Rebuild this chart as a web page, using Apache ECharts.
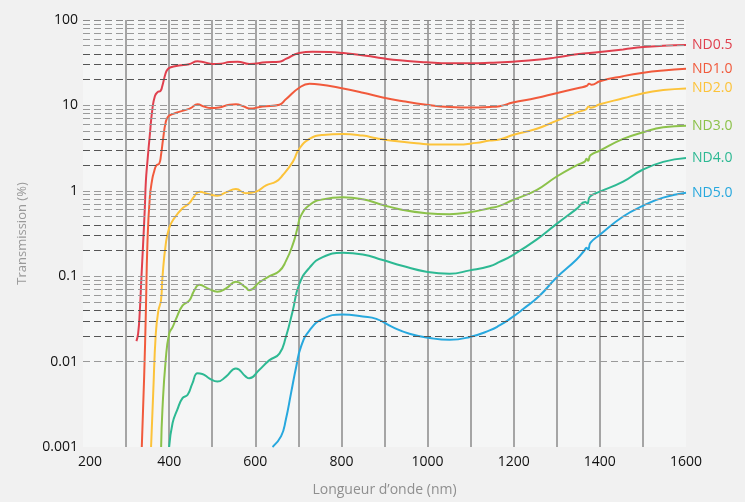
<!DOCTYPE html>
<html>
<head>
<meta charset="utf-8">
<script src="https://cdn.jsdelivr.net/npm/echarts@6/dist/echarts.min.js"></script>
<style>
html,body{margin:0;padding:0;background:#f1f1f1;}
#chart{width:745px;height:502px;}
</style>
</head>
<body>
<div id="chart"></div>
<script>
// ---- Data (wavelength nm, transmission %) ----
var seriesNames = ['ND0.5', 'ND1.0', 'ND2.0', 'ND3.0', 'ND4.0', 'ND5.0'];
var xTicks = [200, 400, 600, 800, 1000, 1200, 1400, 1600];
var yTicks = [0.001, 0.01, 0.1, 1, 10, 100];

var nd05 = [[324,0.0174],[328,0.0212],[332,0.040],[335.6,0.096],[339.5,0.234],[343.5,0.625],[346,1.3],[349.5,2.18],[355,4.43],[361,9.0],[367,12.9],[373,14.3],[380,14.8],[384,16.8],[391,23],[396,26.3],[404,28],[423,29.3],[446,30.3],[466,32.8],[481,32],[501,30.6],[520,30.8],[540,32.2],[559,32.5],[586,30.6],[625,32],[656,32.5],[671,35],[702,41.1],[733,42.5],[772,42.2],[803,41.1],[857,38.2],[896,35.6],[935,33.7],[997,32],[1051,31.1],[1098,31.1],[1144,31.5],[1198,32.5],[1260,34.4],[1299,36.5],[1346,39.6],[1400,42.2],[1454,45.2],[1501,48.2],[1547,49.9],[1600,50.8]];

var nd10 = [[336.5,0.001],[342,0.0067],[346,0.0395],[349.5,0.234],[355,0.817],[361,1.39],[365,1.67],[370.5,1.99],[377,2.08],[381,2.6],[386,4.05],[392,6.33],[398,7.43],[408,7.9],[423,8.4],[439,8.87],[450,9.3],[466,10.3],[481,9.7],[497,9.3],[516,9.45],[540,10.2],[555,10.3],[574,9.7],[586,9.2],[617,9.7],[656,10.2],[671,11.8],[702,16.1],[726,17.9],[749,17.6],[795,16.1],[850,14.1],[896,12.4],[943,11.2],[997,10.2],[1051,9.6],[1105,9.45],[1144,9.6],[1167,9.8],[1198,10.8],[1252,12.2],[1299,13.9],[1353,16.1],[1370,17.0],[1375,17.9],[1381,17.4],[1400,19.2],[1454,22],[1501,24.1],[1547,25.6],[1600,26.8]];

var nd20 = [[358,0.001],[363,0.00427],[369,0.0212],[375,0.0395],[381,0.0517],[384.4,0.096],[392,0.234],[400,0.366],[412,0.479],[431,0.625],[446.5,0.714],[458,0.855],[470,0.977],[493,0.909],[512,0.878],[532,0.958],[555,1.05],[578,0.935],[602,0.977],[625,1.16],[648,1.28],[663.5,1.52],[687,2.18],[702,3.1],[726,4.05],[756.5,4.51],[803,4.63],[849.5,4.43],[881,4.13],[919,3.85],[974,3.61],[1020,3.48],[1067,3.48],[1113,3.64],[1144,3.87],[1167,3.98],[1198,4.51],[1252,5.3],[1299,6.6],[1346,8.27],[1368,9.0],[1374,9.7],[1379,9.4],[1400,10.3],[1454,12.1],[1501,13.9],[1547,15.1],[1600,15.8]];

var nd30 = [[381.4,0.001],[384.4,0.00274],[392,0.0104],[400,0.0212],[408,0.0253],[416,0.0316],[431,0.0452],[446.5,0.0517],[458,0.0675],[470,0.0792],[493,0.0705],[512,0.0658],[532,0.0718],[555,0.0859],[578,0.0738],[586,0.0686],[609,0.0843],[633,0.1],[656,0.115],[671,0.15],[687,0.234],[698,0.366],[705,0.5],[726,0.683],[756.5,0.794],[803,0.838],[849.5,0.794],[896,0.683],[943,0.597],[997,0.547],[1051,0.532],[1098,0.561],[1144,0.625],[1167,0.665],[1198,0.78],[1253,1.02],[1299,1.46],[1346,1.99],[1365,2.2],[1369,2.38],[1373,2.25],[1378,2.6],[1400,2.96],[1454,4.05],[1501,4.85],[1547,5.54],[1600,5.78]];

var nd40 = [[400,0.001],[408,0.00191],[419,0.00274],[431,0.00373],[443,0.00409],[454,0.00557],[466,0.00728],[477,0.00717],[493,0.00637],[512,0.00583],[532,0.00667],[555,0.00832],[578,0.00667],[586,0.00637],[609,0.00797],[633,0.0104],[656,0.0124],[671,0.0194],[687,0.0395],[702,0.0805],[726,0.126],[756.5,0.1675],[803,0.188],[849.5,0.18],[896,0.1545],[943,0.1316],[997,0.113],[1051,0.107],[1098,0.117],[1144,0.131],[1167,0.147],[1198,0.177],[1253,0.268],[1299,0.407],[1346,0.614],[1366,0.74],[1371,0.71],[1377,0.855],[1400,0.977],[1454,1.28],[1497,1.74],[1547,2.18],[1600,2.42]];

var nd50 = [[640,0.001],[660,0.00134],[671,0.0021],[683,0.00427],[695,0.0087],[706,0.0149],[726,0.0232],[756.5,0.0316],[803,0.0356],[849.5,0.0337],[881,0.0316],[919,0.0253],[958,0.0212],[1005,0.0189],[1051,0.018],[1098,0.0194],[1144,0.0232],[1167,0.0265],[1191,0.0316],[1222,0.0413],[1260,0.059],[1299,0.096],[1346,0.157],[1364,0.2],[1369,0.215],[1373,0.205],[1378,0.245],[1400,0.306],[1454,0.5],[1501,0.671],[1547,0.832],[1600,0.95]];

var seriesData = [nd05, nd10, nd20, nd30, nd40, nd50];
var colors = ['#e0404e', '#f15a3c', '#fcc33a', '#8cc24a', '#2db993', '#27a8de'];

// ---- Horizontal log grid lines (1..9 x each decade, up to 100) ----
var gridLines = [];
[0.001, 0.01, 0.1, 1, 10].forEach(function (d) {
  for (var k = 1; k <= 9; k++) {
    var v = +(k * d).toPrecision(3);
    if (v === 0.001) continue;
    var dark = (k >= 2 && k <= 4);
    gridLines.push({ yAxis: v, lineStyle: { color: dark ? '#555' : '#9a9a9a', type: [7, 4], width: 1 } });
  }
});
gridLines.push({ yAxis: 100, lineStyle: { color: '#8a8a8a', type: [7, 4], width: 1 } });

var font = 'Open Sans';
var series = [{
  type: 'line',
  name: 'grid',
  data: [],
  z: 1,
  silent: true,
  markLine: {
    silent: true,
    symbol: ['none', 'none'],
    label: { show: false },
    animation: false,
    data: gridLines
  }
}];
seriesNames.forEach(function (n, i) {
  series.push({
    type: 'line',
    name: n,
    data: seriesData[i],
    z: 3,
    showSymbol: false,
    smooth: 0.5,
    lineStyle: { color: colors[i], width: 2 },
    itemStyle: { color: colors[i] },
    endLabel: {
      show: true,
      formatter: '{a}',
      color: colors[i],
      fontSize: 14,
      fontFamily: font,
      distance: 6
    }
  });
});

var chart = echarts.init(document.getElementById('chart'));
chart.setOption({
  backgroundColor: '#f1f1f1',
  animation: false,
  grid: {
    left: 83, right: 59, top: 20, bottom: 51,
    show: true, backgroundColor: '#f5f6f6', borderWidth: 0
  },
  xAxis: {
    type: 'value',
    min: 200, max: 1600, interval: 100,
    name: 'Longueur d’onde (nm)',
    nameLocation: 'middle',
    nameGap: 36,
    nameTextStyle: { color: '#8f8f8f', fontSize: 14, fontFamily: font },
    axisLine: { show: false },
    axisTick: { show: false },
    axisLabel: {
      color: '#111', fontSize: 14, fontFamily: font, margin: 8,
      formatter: function (v) {
        if (v === 200) return '{first|200}';
        return xTicks.indexOf(v) >= 0 ? String(v) : '';
      },
      rich: {
        first: { color: '#111', fontSize: 14, fontFamily: font, padding: [0, 0, 0, 14] }
      }
    },
    splitLine: {
      show: true, showMinLine: false, showMaxLine: false,
      lineStyle: { color: '#8a8a8a', width: 1.5, type: 'solid' }
    }
  },
  yAxis: {
    type: 'log',
    logBase: 10,
    min: 0.001, max: 100,
    name: 'Transmission (%)',
    nameLocation: 'middle',
    nameGap: 54,
    nameTextStyle: { color: '#999', fontSize: 13, fontFamily: font },
    axisLine: { show: false },
    axisTick: { show: false },
    splitLine: { show: false },
    axisLabel: {
      color: '#111', fontSize: 14, fontFamily: font, margin: 5,
      formatter: function (v) {
        for (var i = 0; i < yTicks.length; i++) {
          if (Math.abs(v - yTicks[i]) / yTicks[i] < 1e-6) return String(yTicks[i]);
        }
        return '';
      }
    }
  },
  series: series
});
</script>
</body>
</html>
